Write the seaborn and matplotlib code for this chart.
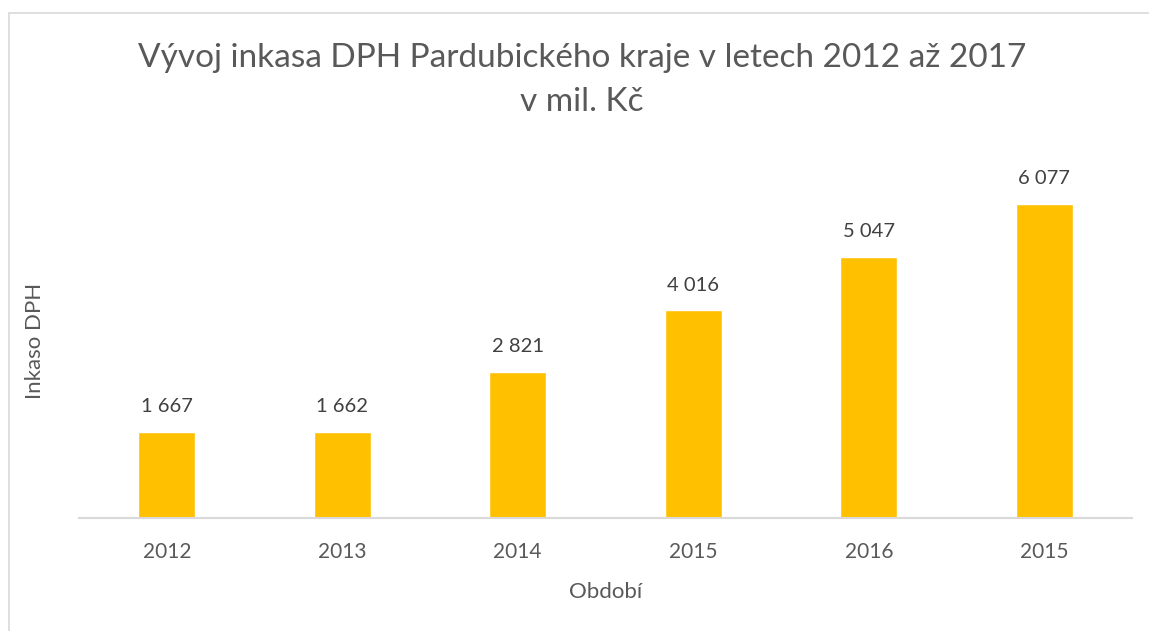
import pandas as pd
import seaborn as sns
import matplotlib.pyplot as plt
from matplotlib.patches import Rectangle

# data (last label really says 2015 in the source)
years = ["2012", "2013", "2014", "2015", "2016", "2015"]
inkaso = [1667, 1662, 2821, 4016, 5047, 6077]

title = "Vývoj inkasa DPH Pardubického kraje v letech 2012 až 2017\nv mil. Kč"
text_gray = "#595959"

sns.set_theme(style="white")
plt.rcParams["font.family"] = ["Lato", "DejaVu Sans"]

df = pd.DataFrame({"pos": range(len(inkaso)), "value": inkaso})

fig = plt.figure(figsize=(11.49, 6.31), dpi=100)
W, H = 1149, 631
ax = fig.add_axes([79 / W, 113 / H, (1132 - 79) / W, 362 / H])

sns.barplot(data=df, x="pos", y="value", color="#FFC000", saturation=1,
            width=0.325, ax=ax)
ax.set_ylim(0, 7000)
ax.set_xlim(-0.5, len(inkaso) - 0.5)

# data labels with space as thousands separator
labels = [f"{v:,}".replace(",", " ") for v in inkaso]
ax.bar_label(ax.containers[0], labels=labels, padding=12,
             fontsize=14.5, color="#404040")

ax.set_xticks(range(len(years)), years)
ax.tick_params(axis="x", length=0, pad=17, labelsize=15, labelcolor=text_gray)
ax.set_yticks([])
for side in ["left", "right", "top"]:
    ax.spines[side].set_visible(False)
ax.spines["bottom"].set_color("#D9D9D9")
ax.spines["bottom"].set_linewidth(1.5)

ax.set_xlabel("Období", fontsize=16, color=text_gray, labelpad=15)
ax.set_ylabel("")
fig.text(35 / W, 1 - 341 / H, "Inkaso DPH", rotation=90, fontsize=16,
         color=text_gray, ha="center", va="center")

fig.text(582 / W, 1 - 80 / H, title, fontsize=24,
         color=text_gray, ha="center", va="center", linespacing=1.6)

# light chart-area border (only top and left edges fall inside the image)
fig.patches.append(Rectangle((8.5 / W, -0.05), 1.1, 1.05 - 13 / H,
                             transform=fig.transFigure, fill=False,
                             edgecolor="#D9D9D9", linewidth=1.2))

fig.savefig("out.png", dpi=100)
